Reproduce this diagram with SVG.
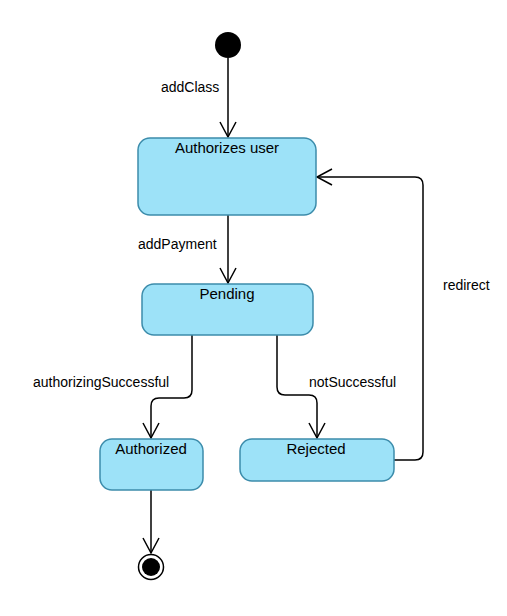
<svg xmlns="http://www.w3.org/2000/svg" width="507" height="616" viewBox="0 0 507 616">
<style>
.state{fill:#9de2f8;stroke:#3c8cab;stroke-width:1.5}
.lbl{font-family:"Liberation Sans",Arial,sans-serif;font-size:14px;fill:#000}
.name{font-family:"Liberation Sans",Arial,sans-serif;font-size:15px;fill:#000;text-anchor:middle}
.edge{fill:none;stroke:#000;stroke-width:1.5}
</style>
<defs>
<marker id="arr" markerUnits="userSpaceOnUse" markerWidth="20" markerHeight="20" refX="0" refY="0" viewBox="-17 -10 20 20" orient="auto">
<path d="M-15,-8 L0,0 L-15,8" fill="none" stroke="#000" stroke-width="1.5"/>
</marker>
</defs>
<rect width="507" height="616" fill="#fff"/>
<g id="connectors">
<path class="edge" d="M228,58 V137" marker-end="url(#arr)"/>
<text class="lbl" x="161" y="92">addClass</text>
<path class="edge" d="M228,215 V283" marker-end="url(#arr)"/>
<text class="lbl" x="138" y="249">addPayment</text>
<path class="edge" d="M192,335 V390 Q192,398 184,398 H159 Q151,398 151,406 V438" marker-end="url(#arr)"/>
<text class="lbl" x="33" y="387">authorizingSuccessful</text>
<path class="edge" d="M277,335 V387 Q277,395 285,395 H309 Q317,395 317,403 V438" marker-end="url(#arr)"/>
<text class="lbl" x="309" y="387">notSuccessful</text>
<path class="edge" d="M394,460 H415 Q423,460 423,452 V185 Q423,177 415,177 H317" marker-end="url(#arr)"/>
<text class="lbl" x="443" y="290">redirect</text>
<path class="edge" d="M151,490 V553" marker-end="url(#arr)"/>
</g>
<g id="start">
<circle cx="228" cy="45" r="13" fill="#000"/>
</g>
<g id="authorizes-user">
<rect class="state" x="138" y="138" width="178" height="77" rx="12"/>
<text class="name" x="227" y="153">Authorizes user</text>
</g>
<g id="pending">
<rect class="state" x="142" y="284" width="171" height="51" rx="12"/>
<text class="name" x="227" y="299">Pending</text>
</g>
<g id="authorized">
<rect class="state" x="100" y="439" width="103" height="51" rx="12"/>
<text class="name" x="151" y="454">Authorized</text>
</g>
<g id="rejected">
<rect class="state" x="240" y="439" width="154" height="42" rx="12"/>
<text class="name" x="316" y="454">Rejected</text>
</g>
<g id="end">
<circle cx="151" cy="567" r="12.5" fill="#fff" stroke="#000" stroke-width="1.5"/>
<circle cx="151" cy="567" r="9" fill="#000"/>
</g>
</svg>
